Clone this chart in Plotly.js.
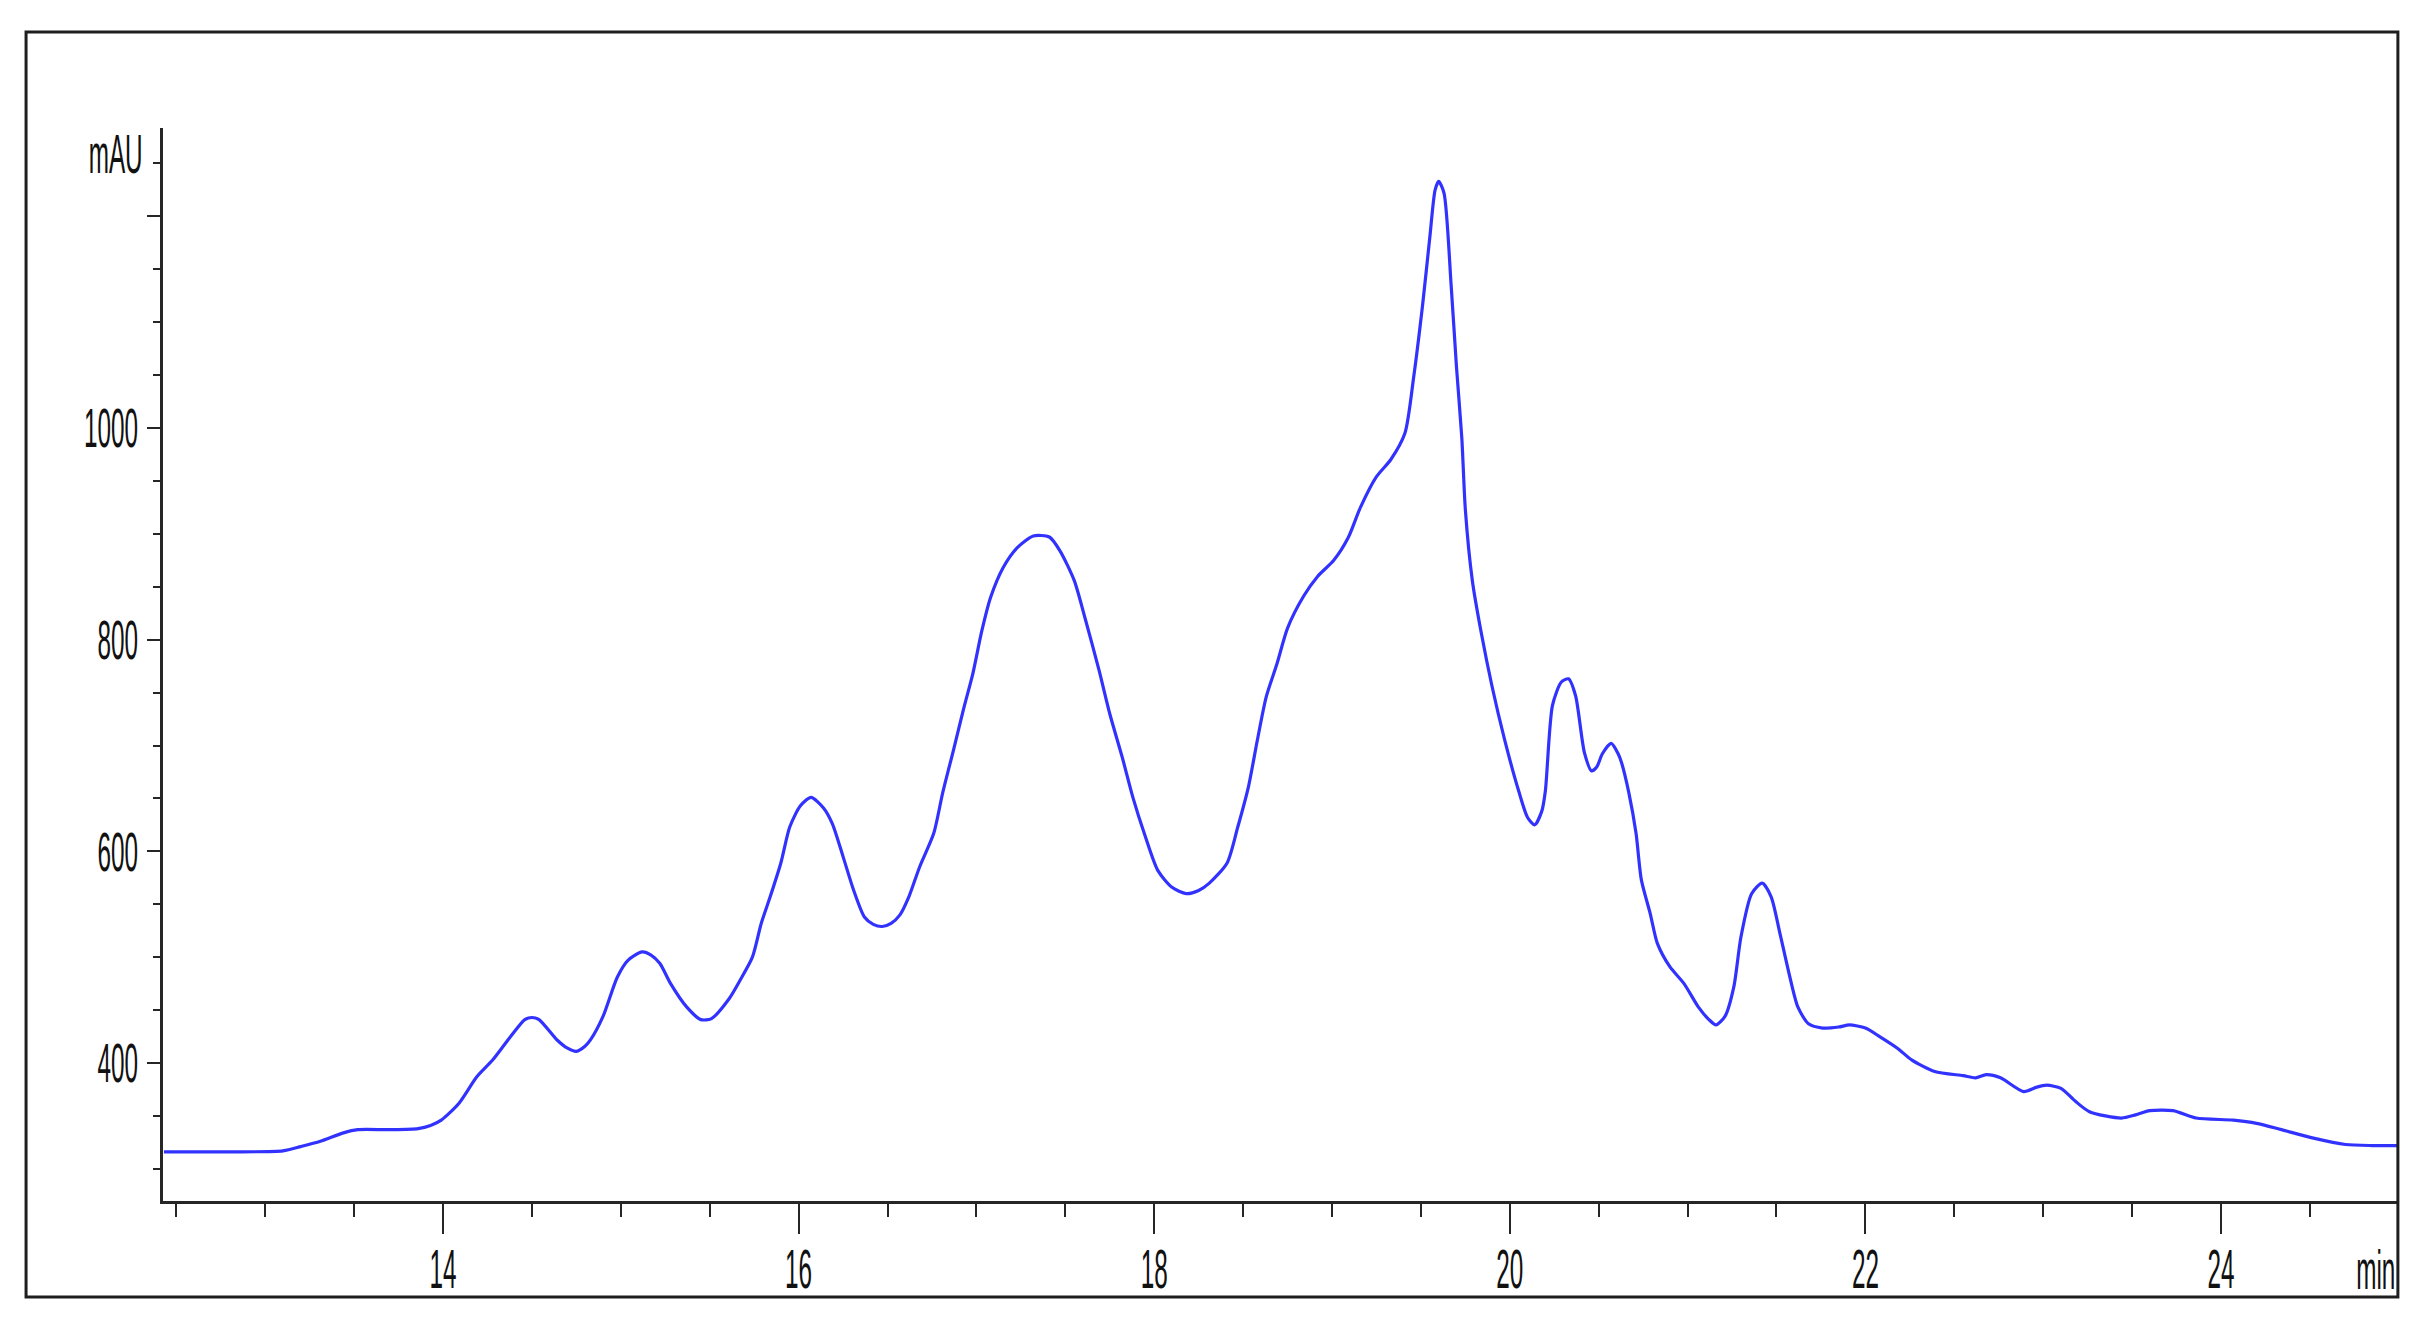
<!DOCTYPE html>
<html>
<head>
<meta charset="utf-8">
<script src="https://cdn.plot.ly/plotly-3.0.1.min.js"></script>
<style>
html, body { margin: 0; padding: 0; background: #ffffff; }
#chart { width: 2431px; height: 1331px; }
</style>
</head>
<body>
<div id="chart"></div>
<script>
// Retention time (min)
const timeMin = [
  12.43, 12.80, 13.10, 13.20, 13.31, 13.44, 13.52, 13.70, 13.86, 13.93,
  13.99, 14.09, 14.19, 14.28, 14.38, 14.46, 14.50, 14.54, 14.64, 14.70,
  14.75, 14.80, 14.83, 14.90, 14.98, 15.04, 15.12, 15.17, 15.22, 15.28,
  15.37, 15.45, 15.51, 15.61, 15.67, 15.74, 15.79, 15.84, 15.90, 15.95,
  16.01, 16.07, 16.14, 16.19, 16.25, 16.31, 16.37, 16.42, 16.47, 16.52,
  16.57, 16.62, 16.68, 16.76, 16.81, 16.87, 16.93, 16.98, 17.03, 17.08,
  17.15, 17.23, 17.32, 17.41, 17.47, 17.55, 17.61, 17.69, 17.75, 17.82,
  17.88, 17.95, 18.02, 18.10, 18.18, 18.25, 18.31, 18.41, 18.47, 18.53,
  18.58, 18.63, 18.69, 18.75, 18.84, 18.92, 19.01, 19.09, 19.16, 19.25,
  19.33, 19.41, 19.46, 19.51, 19.55, 19.58, 19.60, 19.63, 19.67, 19.70,
  19.73, 19.75, 19.79, 19.84, 19.90, 19.97, 20.05, 20.10, 20.14, 20.18,
  20.20, 20.24, 20.29, 20.33, 20.37, 20.42, 20.46, 20.49, 20.52, 20.57,
  20.61, 20.63, 20.67, 20.71, 20.74, 20.79, 20.83, 20.90, 20.98, 21.06,
  21.12, 21.16, 21.21, 21.26, 21.30, 21.36, 21.42, 21.47, 21.52, 21.57,
  21.62, 21.68, 21.76, 21.85, 21.91, 22.00, 22.08, 22.18, 22.26, 22.39,
  22.55, 22.62, 22.68, 22.76, 22.89, 22.96, 23.02, 23.10, 23.18, 23.26,
  23.44, 23.52, 23.60, 23.73, 23.86, 24.07, 24.20, 24.34, 24.52, 24.70,
  24.85, 24.99
];

// Detector signal (mAU)
const absorbance = [
  316, 316, 317, 321, 326, 334, 337, 337, 338, 341,
  346, 362, 387, 403, 425, 441, 443, 441, 422, 414,
  411, 416, 422, 444, 481, 497, 505, 502, 494, 475,
  453, 441, 442, 461, 478, 500, 532, 557, 589, 623,
  643, 651, 641, 626, 595, 563, 538, 531, 529, 532,
  540, 557, 585, 617, 655, 695, 736, 768, 808, 840,
  868, 887, 898, 897, 884, 856, 821, 771, 730, 689,
  651, 614, 582, 566, 560, 563, 570, 589, 623, 661,
  705, 746, 777, 811, 841, 860, 875, 896, 925, 954,
  970, 995, 1049, 1117, 1180, 1225, 1233, 1222, 1135, 1058,
  991, 923, 855, 806, 756, 706, 657, 632, 625, 638,
  657, 738, 760, 763, 747, 693, 676, 680, 692, 702,
  692, 683, 655, 617, 573, 541, 513, 491, 475, 453,
  441, 436, 444, 472, 519, 560, 570, 557, 522, 485,
  453, 437, 433, 434, 436, 433, 425, 414, 403, 392,
  388, 386, 389, 386, 373, 377, 379, 376, 364, 354,
  348, 351, 355, 355, 348, 346, 343, 337, 329, 323,
  322, 322
];

const xTickVals = [14, 16, 18, 20, 22, 24];
const xTickText = ['14', '16', '18', '20', '22', '24'];
const yTickVals = [400, 600, 800, 1000, 1200];
const yTickText = ['400', '600', '800', '1000', ''];
const yUnitLabel = 'mAU';
const xUnitLabel = 'min';

const axisColor = '#262626';
const textColor = '#111111';
const fontFamily = 'Liberation Sans, Arial, sans-serif';

const data = [{
  type: 'scatter',
  mode: 'lines',
  x: timeMin,
  y: absorbance,
  line: { color: 'rgb(50,50,255)', width: 3.2, shape: 'spline', smoothing: 0.7 },
  hoverinfo: 'skip'
}];

const layout = {
  width: 2431,
  height: 1331,
  autosize: false,
  margin: { l: 163, r: 34, t: 128, b: 130, pad: 0 },
  paper_bgcolor: '#ffffff',
  plot_bgcolor: '#ffffff',
  showlegend: false,
  font: { family: fontFamily, size: 30, color: textColor },
  xaxis: {
    range: [12.425, 24.99],
    showgrid: false,
    zeroline: false,
    showline: true,
    linecolor: axisColor,
    linewidth: 3,
    tickmode: 'array',
    tickvals: xTickVals,
    ticktext: xTickText,
    ticks: 'outside',
    ticklen: 30,
    tickwidth: 2,
    tickcolor: axisColor,
    ticklabelstandoff: 9,
    tickfont: { family: fontFamily, size: 30, color: textColor },
    minor: { tickmode: 'linear', tick0: 0, dtick: 0.5, ticks: 'outside', ticklen: 13, tickwidth: 2, tickcolor: axisColor, showgrid: false },
    fixedrange: true
  },
  yaxis: {
    range: [269.6, 1283.5],
    showgrid: false,
    zeroline: false,
    showline: true,
    linecolor: axisColor,
    linewidth: 3,
    tickmode: 'array',
    tickvals: yTickVals,
    ticktext: yTickText,
    ticks: 'outside',
    ticklen: 13,
    tickwidth: 2,
    tickcolor: axisColor,
    ticklabelstandoff: 3,
    tickfont: { family: fontFamily, size: 30, color: textColor },
    minor: { tickmode: 'linear', tick0: 0, dtick: 50, ticks: 'outside', ticklen: 7, tickwidth: 2, tickcolor: axisColor, showgrid: false },
    fixedrange: true
  },
  shapes: [{
    type: 'rect', xref: 'paper', yref: 'paper',
    x0: -0.0613, x1: 1.0004, y0: -0.0895, y1: 1.0895,
    line: { color: '#1e1e1e', width: 3 },
    fillcolor: 'rgba(0,0,0,0)',
    layer: 'above'
  }],
  annotations: [
    { text: yUnitLabel, xref: 'paper', yref: 'paper', x: -0.0080, y: 0.9758, xanchor: 'right', yanchor: 'middle', showarrow: false, font: { family: fontFamily, size: 30, color: textColor } },
    { text: xUnitLabel, xref: 'paper', yref: 'paper', x: 1.0, y: -0.0635, xanchor: 'right', yanchor: 'middle', showarrow: false, font: { family: fontFamily, size: 30, color: textColor } }
  ]
};

Plotly.newPlot('chart', data, layout, { staticPlot: true, displayModeBar: false, responsive: false }).then(function (gd) {
  // The original labels are tall and narrow: stretch text vertically, condense horizontally.
  const SX = 0.81, SY = 1.85;
  function stretch(el, anchor) {
    try {
      const bb = el.getBBox();
      const ax = anchor === 'end' ? bb.x + bb.width : (anchor === 'start' ? bb.x : bb.x + bb.width / 2);
      const cy = bb.y + bb.height / 2;
      const t = el.getAttribute('transform') || '';
      el.setAttribute('transform', t + ' translate(' + ax + ',' + cy + ') scale(' + SX + ',' + SY + ') translate(' + (-ax) + ',' + (-cy) + ')');
    } catch (e) {}
  }
  gd.querySelectorAll('.xtick text').forEach(function (e) { stretch(e, 'middle'); });
  gd.querySelectorAll('.ytick text').forEach(function (e) { stretch(e, 'end'); });
  gd.querySelectorAll('.annotation-text').forEach(function (e) { stretch(e, 'end'); });
});
</script>
</body>
</html>
